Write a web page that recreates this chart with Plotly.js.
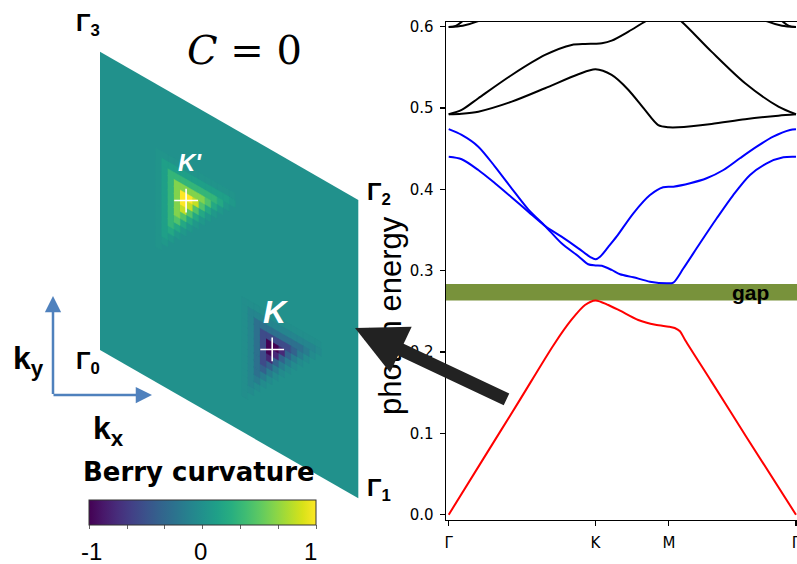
<!DOCTYPE html>
<html><head><meta charset="utf-8">
<script src="https://cdn.plot.ly/plotly-3.0.1.min.js"></script>
<style>html,body{margin:0;padding:0;background:#fff}#chart{width:797px;height:564px}</style>
</head><body><div id="chart"></div>
<script>
// ---------------- band structure data ----------------
const kTicks = [0, 4.189, 6.283, 9.911];
const kTickLabels = ['Γ', 'K', 'M', 'Γ'];
const eTicks = [0, 0.1, 0.2, 0.3, 0.4, 0.5, 0.6];

const kRed = [0, 1.0, 2.0, 3.0, 3.5, 3.89, 4.189, 4.555, 4.89, 5.41, 5.9, 6.283, 6.45, 6.6, 6.75, 7.5, 8.5, 9.911];
const eRed = [0, 0.0696, 0.139, 0.209, 0.2394, 0.2578, 0.2635, 0.2578, 0.2508, 0.2394, 0.2335, 0.2312, 0.2295, 0.2255, 0.2145, 0.1636, 0.0953, 0];

const kBlue1 = [0, 0.37, 0.845, 1.32, 1.80, 2.27, 2.75, 3.22, 3.70, 3.98, 4.189, 4.37, 4.65, 4.89, 5.27, 5.745, 6.22, 6.41, 6.70, 7.17, 7.65, 8.12, 8.60, 9.075, 9.55, 9.911];
const eBlue1 = [0.474, 0.4669, 0.4525, 0.428, 0.401, 0.3754, 0.355, 0.3337, 0.3178, 0.3079, 0.3065, 0.306, 0.3009, 0.2956, 0.2919, 0.2865, 0.2845, 0.2853, 0.303, 0.3337, 0.3644, 0.393, 0.4177, 0.432, 0.4394, 0.440];

const kBlue2 = [0, 0.37, 0.845, 1.32, 1.80, 2.27, 2.75, 3.22, 3.70, 4.05, 4.189, 4.32, 4.55, 4.79, 5.27, 5.745, 6.12, 6.41, 6.89, 7.36, 7.84, 8.31, 8.79, 9.26, 9.74, 9.911];
const eBlue2 = [0.440, 0.437, 0.4238, 0.4075, 0.390, 0.3725, 0.355, 0.3418, 0.3275, 0.3165, 0.314, 0.3172, 0.329, 0.3418, 0.3706, 0.393, 0.4026, 0.4033, 0.4075, 0.4136, 0.4238, 0.4382, 0.4525, 0.4648, 0.473, 0.474];

const kBlack1 = [0, 0.37, 0.845, 1.80, 2.75, 3.70, 4.189, 4.65, 5.13, 5.60, 5.98, 6.283, 6.55, 7.50, 8.46, 9.41, 9.911];
const eBlack1 = [0.4923, 0.493, 0.4955, 0.5078, 0.5243, 0.5415, 0.5476, 0.5406, 0.5222, 0.4976, 0.479, 0.4763, 0.4763, 0.4804, 0.4862, 0.4906, 0.4923];

const kBlack2 = [0, 0.37, 0.845, 1.80, 2.75, 3.51, 3.89, 4.189, 4.37, 4.65, 5.13, 5.60, 6.0, 6.283, 6.65, 7.50, 8.46, 9.41, 9.911];
const eBlack2 = [0.4923, 0.4976, 0.512, 0.5406, 0.5652, 0.5775, 0.5787, 0.579, 0.5796, 0.5828, 0.5939, 0.6061, 0.615, 0.618, 0.6061, 0.5693, 0.5304, 0.5017, 0.4923];

const kBlack3L = [0, 0.4, 0.8, 1.2];
const eBlack3L = [0.5995, 0.601, 0.6062, 0.614];
const kBlack4L = [0, 0.2, 0.4, 0.6];
const eBlack4L = [0.5995, 0.601, 0.607, 0.616];
const kBlack3R = [8.711, 9.111, 9.511, 9.911];
const eBlack3R = [0.614, 0.6062, 0.601, 0.5995];
const kBlack4R = [9.311, 9.511, 9.711, 9.911];
const eBlack4R = [0.616, 0.607, 0.601, 0.5995];

const gapLow = 0.2635, gapHigh = 0.2835;

// ---------------- Berry curvature data ----------------
const nGrid = 42;                 // cells along each reciprocal vector
const nodeK = [28, 14];           // K  = (2/3, 1/3)
const nodeKp = [14, 28];          // K' = (1/3, 2/3)
const patchCols = [-5, -4, -3, -2, -1, 0, 1, 2, 3, 4, 5, 6, 7];
const patchRows = [4, 3, 2, 1, 0, -1, -2, -3, -4, -5, -6, -7, -8, -9];
const berryK = [
  [-.02,-.02,-.02,-.02,-.02,-.02,-.02,-.02,-.02,-.02,-.02,-.02,-.02],
  [-.02,-.1,-.1,-.1,-.1,-.1,-.1,-.1,-.1,-.1,-.1,-.1,-.05],
  [-.02,-.1,-.26,-.26,-.26,-.26,-.26,-.26,-.26,-.26,-.17,-.05,0],
  [-.02,-.1,-.26,-.55,-.55,-.55,-.55,-.55,-.38,-.17,-.05,0,0],
  [-.02,-.1,-.26,-.55,-1,-1,-.78,-.38,-.17,-.05,0,0,0],
  [-.02,-.1,-.26,-.55,-1,-.78,-.38,-.17,-.05,0,0,0,0],
  [-.02,-.1,-.26,-.55,-.78,-.38,-.17,-.05,0,0,0,0,0],
  [-.02,-.1,-.26,-.55,-.38,-.17,-.05,0,0,0,0,0,0],
  [-.02,-.1,-.26,-.38,-.17,-.05,0,0,0,0,0,0,0],
  [-.02,-.1,-.26,-.17,-.05,0,0,0,0,0,0,0,0],
  [-.02,-.1,-.17,-.05,0,0,0,0,0,0,0,0,0],
  [-.02,-.1,-.05,0,0,0,0,0,0,0,0,0,0],
  [-.02,-.05,0,0,0,0,0,0,0,0,0,0,0],
  [-.02,0,0,0,0,0,0,0,0,0,0,0,0]
];
const berryKp = [
  [.03,.03,.03,.03,.03,.03,.03,.03,.03,.03,.03,.03,.03],
  [.03,.12,.12,.12,.12,.12,.12,.12,.12,.12,.12,.12,.06],
  [.03,.12,.32,.32,.32,.32,.32,.32,.32,.32,.2,.06,0],
  [.03,.12,.32,.62,.62,.62,.62,.62,.45,.2,.06,0,0],
  [.03,.12,.32,.62,1,1,.82,.45,.2,.06,0,0,0],
  [.03,.12,.32,.62,1,.82,.45,.2,.06,0,0,0,0],
  [.03,.12,.32,.62,.82,.45,.2,.06,0,0,0,0,0],
  [.03,.12,.32,.62,.45,.2,.06,0,0,0,0,0,0],
  [.03,.12,.32,.45,.2,.06,0,0,0,0,0,0,0],
  [.03,.12,.32,.2,.06,0,0,0,0,0,0,0,0],
  [.03,.12,.2,.06,0,0,0,0,0,0,0,0,0],
  [.03,.12,.06,0,0,0,0,0,0,0,0,0,0],
  [.03,.06,0,0,0,0,0,0,0,0,0,0,0],
  [.03,0,0,0,0,0,0,0,0,0,0,0,0]
];
const valleyPoints = [[2/3, 1/3], [1/3, 2/3]];
const cbTicks = [-1, -2/3, -1/3, 0, 1/3, 2/3, 1];
const cbLabelVals = [-1, 0, 1];
const cbLabels = ['-1', '0', '1'];

// ---------------- helpers ----------------
const viridis = [[0,'#440154'],[0.0627,'#48186a'],[0.1255,'#472d7b'],[0.1882,'#424086'],[0.2510,'#3b528b'],[0.3137,'#33638d'],[0.3765,'#2c728e'],[0.4392,'#26828e'],[0.5020,'#21918c'],[0.5647,'#1fa088'],[0.6275,'#28ae80'],[0.6902,'#3fbc73'],[0.7529,'#5ec962'],[0.8157,'#84d44b'],[0.8784,'#addc30'],[0.9412,'#d8e219'],[1,'#fde725']];
function hex2rgb(h){return [parseInt(h.slice(1,3),16),parseInt(h.slice(3,5),16),parseInt(h.slice(5,7),16)];}
function vcolor(v){
  let t = Math.max(0, Math.min(1, (v + 1) / 2));
  for (let i = 1; i < viridis.length; i++) {
    if (t <= viridis[i][0]) {
      const [t0,c0] = viridis[i-1], [t1,c1] = viridis[i];
      const f = (t - t0) / (t1 - t0), a = hex2rgb(c0), b = hex2rgb(c1);
      return 'rgb(' + a.map((x,k)=>Math.round(x + f*(b[k]-x))).join(',') + ')';
    }
  }
  return viridis[viridis.length-1][1];
}
// Brillouin-zone rhombus placement (pixel frame of the overlay axes)
const O = [100, 350], A1 = [258.3, 148.3], A2 = [0, -298.3];
function toPix(u, v){ return [O[0] + u*A1[0] + v*A2[0], O[1] + u*A1[1] + v*A2[1]]; }

const traces = [];
const bandLine = (k, e, c) => ({x:k, y:e, type:'scatter', mode:'lines', xaxis:'x', yaxis:'y',
  line:{color:c, width:2, shape:'spline', smoothing:0.8}, hoverinfo:'skip'});
traces.push(bandLine(kBlack3L, eBlack3L, '#000'));
traces.push(bandLine(kBlack4L, eBlack4L, '#000'));
traces.push(bandLine(kBlack3R, eBlack3R, '#000'));
traces.push(bandLine(kBlack4R, eBlack4R, '#000'));
traces.push(bandLine(kBlack1, eBlack1, '#000'));
traces.push(bandLine(kBlack2, eBlack2, '#000'));
traces.push(bandLine(kBlue1, eBlue1, '#0000ff'));
traces.push(bandLine(kBlue2, eBlue2, '#0000ff'));
traces.push(bandLine(kRed, eRed, '#ff0000'));

// colorbar carrier
const ctr = toPix(0.5, 0.5);
traces.push({x:[ctr[0], ctr[0]], y:[ctr[1], ctr[1]], type:'scatter', mode:'markers', xaxis:'x2', yaxis:'y2',
  hoverinfo:'skip',
  marker:{size:1, opacity:0, color:[-1, 1], cmin:-1, cmax:1, colorscale:viridis, showscale:true,
    colorbar:{orientation:'h', x:89.3/797, xanchor:'left', xref:'paper', y:1-529.5/564, yanchor:'bottom', yref:'paper',
      len:227.4, lenmode:'pixels', thickness:24.7, thicknessmode:'pixels', xpad:0, ypad:0,
      outlinewidth:1, outlinecolor:'#333', borderwidth:0, tickvals:cbTicks, ticks:'outside', ticklen:4,
      tickwidth:1, tickcolor:'#666', showticklabels:false}}});

// rhombus background (zero curvature)
const corners = [[0,0],[1,0],[1,1],[0,1]].map(p => toPix(p[0], p[1]));
traces.push({x:corners.map(p=>p[0]), y:corners.map(p=>p[1]), type:'scatter', mode:'lines', fill:'toself',
  fillcolor:vcolor(0), line:{width:0}, xaxis:'x2', yaxis:'y2', hoverinfo:'skip'});

// cells
const groups = new Map();
function addPatch(node, patch){
  patchRows.forEach((b, r) => patchCols.forEach((a, c) => {
    const val = patch[r][c]; if (!val) return;
    const i = node[0] + a, j = node[1] + b;
    const key = val.toFixed(3);
    if (!groups.has(key)) groups.set(key, {val:val, x:[], y:[]});
    const g = groups.get(key);
    [[i,j],[i+1,j],[i+1,j+1],[i,j+1]].forEach(q => { const P = toPix(q[0]/nGrid, q[1]/nGrid); g.x.push(P[0]); g.y.push(P[1]); });
    g.x.push(null); g.y.push(null);
  }));
}
addPatch(nodeK, berryK);
addPatch(nodeKp, berryKp);
[...groups.values()].sort((p,q)=>Math.abs(p.val)-Math.abs(q.val)).forEach(g => {
  const col = vcolor(g.val);
  traces.push({x:g.x, y:g.y, type:'scatter', mode:'lines', fill:'toself', fillcolor:col,
    line:{width:0.6, color:col}, xaxis:'x2', yaxis:'y2', hoverinfo:'skip', connectgaps:false});
});

// valley crosses
const vp = valleyPoints.map(p => toPix(p[0], p[1]));
traces.push({x:vp.map(p=>p[0]), y:vp.map(p=>p[1]), type:'scatter', mode:'markers', xaxis:'x2', yaxis:'y2',
  marker:{symbol:'cross-thin', size:17, line:{color:'#fff', width:1.6}}, hoverinfo:'skip'});

const sans = 'Liberation Sans, Arial, sans-serif';
const ann = (x, y, text, size, extra) => Object.assign({xref:'x2', yref:'y2', x:x, y:y, text:text, showarrow:false,
  font:{family:sans, size:size, color:'#000'}, xanchor:'center', yanchor:'middle'}, extra || {});
const annotations = [
  ann(244, 50, '<i>C</i> = 0', 40, {font:{family:'DejaVu Serif, serif', size:40, color:'#000'}}),
  ann(88, 24, '<b>Γ<sub>3</sub></b>', 24),
  ann(379, 193, '<b>Γ<sub>2</sub></b>', 24),
  ann(88, 362, '<b>Γ<sub>0</sub></b>', 24),
  ann(379, 489, '<b>Γ<sub>1</sub></b>', 24),
  ann(190, 162, "<b><i>K'</i></b>", 24, {font:{family:sans, size:24, color:'#fff'}}),
  ann(276, 312, '<b><i>K</i></b>', 32, {font:{family:sans, size:32, color:'#fff'}}),
  ann(28, 360, '<b>k<sub>y</sub></b>', 32),
  ann(108, 430, '<b>k<sub>x</sub></b>', 32),
  ann(199, 472, '<b>Berry curvature</b>', 26, {font:{family:'DejaVu Sans, sans-serif', size:26, color:'#000'}}),
  ann(750, 292, '<b>gap</b>', 21),
  ann(390, 316, 'photon energy', 31, {textangle:-90})
];
cbLabelVals.forEach((v, i) => annotations.push(ann(91 + (v + 1) / 2 * 219, 551, cbLabels[i], 24)));
// blue k-axes arrows
annotations.push({xref:'x2', yref:'y2', axref:'x2', ayref:'y2', x:53, y:296, ax:53, ay:395.5, text:'', showarrow:true,
  arrowhead:2, arrowsize:1.3, arrowwidth:2.5, arrowcolor:'#4f81bd', standoff:0});
annotations.push({xref:'x2', yref:'y2', axref:'x2', ayref:'y2', x:152, y:395, ax:52, ay:395, text:'', showarrow:true,
  arrowhead:2, arrowsize:1.3, arrowwidth:2.5, arrowcolor:'#4f81bd', standoff:0});
// big black arrow
annotations.push({xref:'x2', yref:'y2', axref:'x2', ayref:'y2', x:355, y:328, ax:508, ay:400, text:'', showarrow:true,
  arrowhead:2, arrowsize:0.78, arrowwidth:13, arrowcolor:'#222', standoff:0});

const layout = {
  width:797, height:564, margin:{l:0, r:0, t:0, b:0, pad:0},
  paper_bgcolor:'#fff', plot_bgcolor:'rgba(0,0,0,0)', showlegend:false, hovermode:false,
  xaxis:{domain:[445.7/797, 1], range:[-0.0856, 9.94], tickvals:kTicks, ticktext:kTickLabels,
    ticks:'outside', ticklen:5, tickwidth:1.1, tickcolor:'#000', showline:true, linecolor:'#000', linewidth:1.1,
    mirror:true, showgrid:false, zeroline:false, ticklabelstandoff:4, ticklabeloverflow:'allow',
    tickfont:{family:'DejaVu Sans, sans-serif', size:15, color:'#000'}, anchor:'y'},
  yaxis:{domain:[1-520/564, 1-21.7/564], range:[-0.0065, 0.6061], tickvals:eTicks, tickformat:'.1f',
    ticks:'outside', ticklen:5, tickwidth:1.1, tickcolor:'#000', showline:true, linecolor:'#000', linewidth:1.1,
    mirror:true, showgrid:false, zeroline:false, ticklabelstandoff:3,
    tickfont:{family:'DejaVu Sans, sans-serif', size:15, color:'#000'}, anchor:'x'},
  xaxis2:{domain:[0,1], range:[0,797], visible:false, anchor:'y2', fixedrange:true},
  yaxis2:{domain:[0,1], range:[564,0], visible:false, anchor:'x2', fixedrange:true},
  shapes:[{type:'rect', xref:'x domain', x0:0, x1:1, yref:'y', y0:gapLow, y1:gapHigh,
    fillcolor:'#78923b', line:{width:0}, layer:'below'}],
  annotations:annotations
};
Plotly.newPlot('chart', traces, layout, {staticPlot:true, displayModeBar:false});
</script></body></html>
